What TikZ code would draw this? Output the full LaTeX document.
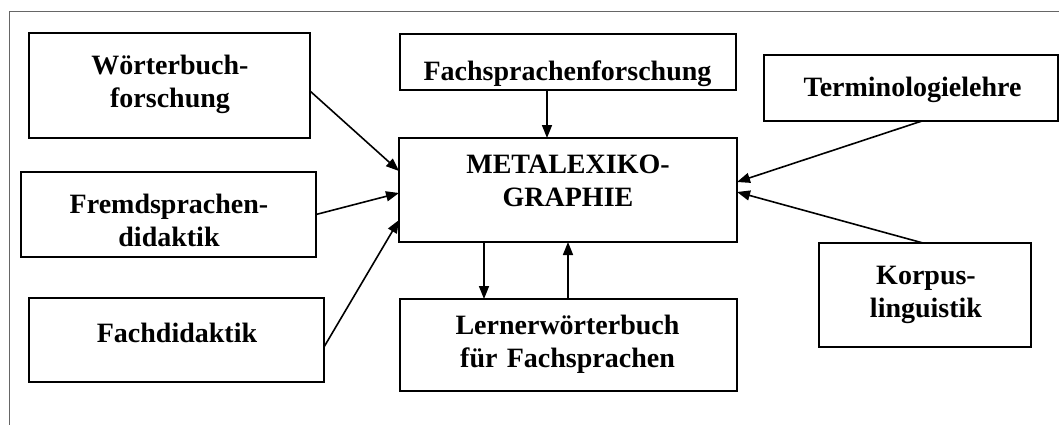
\documentclass[tikz,border=0pt]{standalone}
\usepackage{fontspec}
\setmainfont{Liberation Serif}
\usetikzlibrary{arrows.meta,calc}
\begin{document}
\begin{tikzpicture}[x=1pt,y=-1pt,
  box/.style={draw, line width=1.8pt, inner sep=0pt, outer sep=0pt, rectangle},
  lbl/.style={anchor=base, align=center, text width=330pt, inner sep=0pt,
    font=\fontsize{28}{33}\selectfont\bfseries},
  arr/.style={line width=1.6pt, -{Triangle[length=13pt,width=10pt]}},
  frame/.style={draw=black!60, line width=1pt}]
\useasboundingbox (0,0) rectangle (1059,425);
\coordinate (fa) at (9,425);
\coordinate (fb) at (9,12);
\coordinate (fc) at (1059,12);
\draw[frame] (fa) -- (fb) -- (fc);

% boxes
\node[box, minimum width=281, minimum height=105] (wb) at (169.5,85.5) {};
\node[box, minimum width=295, minimum height=85] (fd) at (168.5,214.5) {};
\node[box, minimum width=295, minimum height=84] (fach) at (176.5,340) {};
\node[box, minimum width=336, minimum height=56] (fsf) at (568,62) {};
\node[box, minimum width=338, minimum height=104] (meta) at (568,190) {};
\node[box, minimum width=337, minimum height=92] (lern) at (568.5,345) {};
\node[box, minimum width=294, minimum height=66] (term) at (911,88) {};
\node[box, minimum width=212, minimum height=104] (korp) at (925,295) {};

% texts
\node[lbl] (wbt) at (170,75) {Wörterbuch-\\forschung};
\node[lbl] (fdt) at (169,213) {Fremdsprachen-\\didaktik};
\node[lbl] (facht) at (177,342) {Fachdidaktik};
\node[lbl] (fsft) at (567.5,81) {Fachsprachenforschung};
\node[lbl] (metat) at (568,173) {METALEXIKO-\\GRAPHIE};
\node[lbl] (lernt) at (567.5,334) {Lernerwörterbuch\\für Fachsprachen};
\node[lbl] (termt) at (912.5,97) {Terminologielehre};
\node[lbl] (korpt) at (926,284) {Korpus-\\linguistik};

% connectors
\draw[arr] ([yshift=-5.5pt]wb.east) -- ([yshift=19pt]meta.west);
\draw[arr] (fd.east) -- ([yshift=-3pt]meta.west);
\draw[arr] ([yshift=-7pt]fach.east) -- ([yshift=-30pt]meta.west);
\draw[arr] ([xshift=-21pt]fsf.south) -- ([xshift=-21pt]meta.north);
\draw[arr] ([xshift=-84pt]meta.south) -- ([xshift=-84.5pt]lern.north);
\draw[arr] ([xshift=-0.5pt]lern.north) -- (meta.south);
\draw[arr] ([xshift=11pt]term.south) -- ([yshift=8pt]meta.east);
\draw[arr] ([xshift=-2pt]korp.north) -- ([yshift=-2pt]meta.east);
\end{tikzpicture}
\end{document}
